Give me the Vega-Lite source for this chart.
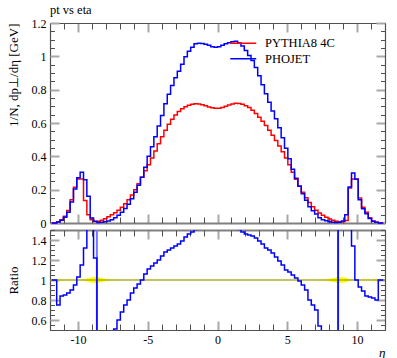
{
"$schema": "https://vega.github.io/schema/vega-lite/v6.json",
"padding": {"left": 6, "top": 3, "right": 5, "bottom": 3},
"background": "white",
"spacing": 0,
"config": {"view": {"stroke": null}, "font": "Liberation Serif",
 "axis": {"grid": false, "minExtent": 0, "labelFont": "Liberation Serif", "labelFontSize": 12, "labelColor": "#000", "labelOverlap": false, "labelFlush": false, "titleFont": "Liberation Serif", "titleFontSize": 13, "titleFontWeight": "normal", "titleColor": "#000", "domainColor": "#505050", "domainWidth": 1.2},
 "axisY": {"minExtent": 0}, "axisX": {"minExtent": 0}},
"datasets": {
"h": [
{"x":-11.88,"PYTHIA8 4C":0,"PHOJET":0,"r":1,"lo":1,"hi":1},
{"x":-11.64,"PYTHIA8 4C":0,"PHOJET":0,"r":1,"lo":1,"hi":1},
{"x":-11.40,"PYTHIA8 4C":0.008,"PHOJET":0.006,"r":0.75,"lo":0.99,"hi":1.01},
{"x":-11.16,"PYTHIA8 4C":0.020,"PHOJET":0.017,"r":0.84,"lo":0.992,"hi":1.008},
{"x":-10.92,"PYTHIA8 4C":0.040,"PHOJET":0.034,"r":0.85,"lo":0.994,"hi":1.006},
{"x":-10.68,"PYTHIA8 4C":0.075,"PHOJET":0.065,"r":0.87,"lo":0.995,"hi":1.005},
{"x":-10.44,"PYTHIA8 4C":0.140,"PHOJET":0.126,"r":0.90,"lo":0.996,"hi":1.004},
{"x":-10.20,"PYTHIA8 4C":0.215,"PHOJET":0.204,"r":0.95,"lo":0.996,"hi":1.004},
{"x":-9.96,"PYTHIA8 4C":0.264,"PHOJET":0.272,"r":1.03,"lo":0.996,"hi":1.004},
{"x":-9.72,"PYTHIA8 4C":0.264,"PHOJET":0.305,"r":1.15,"lo":0.994,"hi":1.006},
{"x":-9.48,"PYTHIA8 4C":0.135,"PHOJET":0.260,"r":1.32,"lo":0.99,"hi":1.01},
{"x":-9.24,"PYTHIA8 4C":0.050,"PHOJET":0.160,"r":1.80,"lo":0.98,"hi":1.02},
{"x":-9.00,"PYTHIA8 4C":0.020,"PHOJET":0.030,"r":1.90,"lo":0.972,"hi":1.028},
{"x":-8.76,"PYTHIA8 4C":0.009,"PHOJET":0.010,"r":1.22,"lo":0.97,"hi":1.03},
{"x":-8.52,"PYTHIA8 4C":0.010,"PHOJET":0.003,"r":0.20,"lo":0.972,"hi":1.028},
{"x":-8.28,"PYTHIA8 4C":0.017,"PHOJET":0.004,"r":0.20,"lo":0.98,"hi":1.02},
{"x":-8.04,"PYTHIA8 4C":0.026,"PHOJET":0.007,"r":0.30,"lo":0.988,"hi":1.012},
{"x":-7.80,"PYTHIA8 4C":0.037,"PHOJET":0.012,"r":0.33,"lo":0.992,"hi":1.008},
{"x":-7.56,"PYTHIA8 4C":0.049,"PHOJET":0.020,"r":0.40,"lo":0.995,"hi":1.005},
{"x":-7.32,"PYTHIA8 4C":0.062,"PHOJET":0.032,"r":0.51,"lo":0.996,"hi":1.004},
{"x":-7.08,"PYTHIA8 4C":0.077,"PHOJET":0.046,"r":0.60,"lo":0.997,"hi":1.003},
{"x":-6.84,"PYTHIA8 4C":0.095,"PHOJET":0.065,"r":0.68,"lo":0.998,"hi":1.002},
{"x":-6.60,"PYTHIA8 4C":0.116,"PHOJET":0.087,"r":0.75,"lo":0.998,"hi":1.002},
{"x":-6.36,"PYTHIA8 4C":0.140,"PHOJET":0.112,"r":0.80,"lo":0.998,"hi":1.002},
{"x":-6.12,"PYTHIA8 4C":0.168,"PHOJET":0.146,"r":0.87,"lo":0.998,"hi":1.002},
{"x":-5.88,"PYTHIA8 4C":0.200,"PHOJET":0.184,"r":0.92,"lo":0.998,"hi":1.002},
{"x":-5.64,"PYTHIA8 4C":0.236,"PHOJET":0.227,"r":0.96,"lo":0.998,"hi":1.002},
{"x":-5.40,"PYTHIA8 4C":0.275,"PHOJET":0.275,"r":1.00,"lo":0.998,"hi":1.002},
{"x":-5.16,"PYTHIA8 4C":0.313,"PHOJET":0.335,"r":1.06,"lo":0.998,"hi":1.002},
{"x":-4.92,"PYTHIA8 4C":0.350,"PHOJET":0.400,"r":1.11,"lo":0.998,"hi":1.002},
{"x":-4.68,"PYTHIA8 4C":0.390,"PHOJET":0.458,"r":1.14,"lo":0.998,"hi":1.002},
{"x":-4.44,"PYTHIA8 4C":0.432,"PHOJET":0.518,"r":1.17,"lo":0.998,"hi":1.002},
{"x":-4.20,"PYTHIA8 4C":0.476,"PHOJET":0.582,"r":1.20,"lo":0.998,"hi":1.002},
{"x":-3.96,"PYTHIA8 4C":0.518,"PHOJET":0.645,"r":1.24,"lo":0.998,"hi":1.002},
{"x":-3.72,"PYTHIA8 4C":0.557,"PHOJET":0.715,"r":1.28,"lo":0.998,"hi":1.002},
{"x":-3.48,"PYTHIA8 4C":0.592,"PHOJET":0.772,"r":1.30,"lo":0.998,"hi":1.002},
{"x":-3.24,"PYTHIA8 4C":0.622,"PHOJET":0.825,"r":1.32,"lo":0.998,"hi":1.002},
{"x":-3.00,"PYTHIA8 4C":0.648,"PHOJET":0.871,"r":1.34,"lo":0.998,"hi":1.002},
{"x":-2.76,"PYTHIA8 4C":0.669,"PHOJET":0.911,"r":1.36,"lo":0.998,"hi":1.002},
{"x":-2.52,"PYTHIA8 4C":0.685,"PHOJET":0.952,"r":1.39,"lo":0.998,"hi":1.002},
{"x":-2.28,"PYTHIA8 4C":0.697,"PHOJET":0.997,"r":1.43,"lo":0.998,"hi":1.002},
{"x":-2.04,"PYTHIA8 4C":0.706,"PHOJET":1.031,"r":1.46,"lo":0.998,"hi":1.002},
{"x":-1.80,"PYTHIA8 4C":0.712,"PHOJET":1.054,"r":1.48,"lo":0.998,"hi":1.002},
{"x":-1.56,"PYTHIA8 4C":0.716,"PHOJET":1.075,"r":1.505,"lo":0.998,"hi":1.002},
{"x":-1.32,"PYTHIA8 4C":0.714,"PHOJET":1.078,"r":1.51,"lo":0.998,"hi":1.002},
{"x":-1.08,"PYTHIA8 4C":0.710,"PHOJET":1.077,"r":1.52,"lo":0.998,"hi":1.002},
{"x":-0.84,"PYTHIA8 4C":0.703,"PHOJET":1.072,"r":1.52,"lo":0.998,"hi":1.002},
{"x":-0.60,"PYTHIA8 4C":0.696,"PHOJET":1.066,"r":1.53,"lo":0.998,"hi":1.002},
{"x":-0.36,"PYTHIA8 4C":0.691,"PHOJET":1.058,"r":1.53,"lo":0.998,"hi":1.002},
{"x":-0.12,"PYTHIA8 4C":0.689,"PHOJET":1.055,"r":1.53,"lo":0.998,"hi":1.002},
{"x":0.12,"PYTHIA8 4C":0.689,"PHOJET":1.058,"r":1.53,"lo":0.998,"hi":1.002},
{"x":0.36,"PYTHIA8 4C":0.693,"PHOJET":1.066,"r":1.53,"lo":0.998,"hi":1.002},
{"x":0.60,"PYTHIA8 4C":0.700,"PHOJET":1.075,"r":1.53,"lo":0.998,"hi":1.002},
{"x":0.84,"PYTHIA8 4C":0.708,"PHOJET":1.082,"r":1.53,"lo":0.998,"hi":1.002},
{"x":1.08,"PYTHIA8 4C":0.714,"PHOJET":1.088,"r":1.53,"lo":0.998,"hi":1.002},
{"x":1.32,"PYTHIA8 4C":0.718,"PHOJET":1.090,"r":1.52,"lo":0.998,"hi":1.002},
{"x":1.56,"PYTHIA8 4C":0.717,"PHOJET":1.080,"r":1.505,"lo":0.998,"hi":1.002},
{"x":1.80,"PYTHIA8 4C":0.712,"PHOJET":1.062,"r":1.48,"lo":0.998,"hi":1.002},
{"x":2.04,"PYTHIA8 4C":0.704,"PHOJET":1.035,"r":1.46,"lo":0.998,"hi":1.002},
{"x":2.28,"PYTHIA8 4C":0.693,"PHOJET":1.005,"r":1.45,"lo":0.998,"hi":1.002},
{"x":2.52,"PYTHIA8 4C":0.677,"PHOJET":0.975,"r":1.44,"lo":0.998,"hi":1.002},
{"x":2.76,"PYTHIA8 4C":0.657,"PHOJET":0.933,"r":1.42,"lo":0.998,"hi":1.002},
{"x":3.00,"PYTHIA8 4C":0.635,"PHOJET":0.883,"r":1.39,"lo":0.998,"hi":1.002},
{"x":3.24,"PYTHIA8 4C":0.610,"PHOJET":0.830,"r":1.36,"lo":0.998,"hi":1.002},
{"x":3.48,"PYTHIA8 4C":0.585,"PHOJET":0.775,"r":1.32,"lo":0.998,"hi":1.002},
{"x":3.72,"PYTHIA8 4C":0.557,"PHOJET":0.724,"r":1.30,"lo":0.998,"hi":1.002},
{"x":3.96,"PYTHIA8 4C":0.527,"PHOJET":0.672,"r":1.27,"lo":0.998,"hi":1.002},
{"x":4.20,"PYTHIA8 4C":0.495,"PHOJET":0.625,"r":1.23,"lo":0.998,"hi":1.002},
{"x":4.44,"PYTHIA8 4C":0.462,"PHOJET":0.572,"r":1.19,"lo":0.998,"hi":1.002},
{"x":4.68,"PYTHIA8 4C":0.428,"PHOJET":0.512,"r":1.15,"lo":0.998,"hi":1.002},
{"x":4.92,"PYTHIA8 4C":0.390,"PHOJET":0.448,"r":1.10,"lo":0.998,"hi":1.002},
{"x":5.16,"PYTHIA8 4C":0.350,"PHOJET":0.385,"r":1.08,"lo":0.998,"hi":1.002},
{"x":5.40,"PYTHIA8 4C":0.305,"PHOJET":0.322,"r":1.05,"lo":0.998,"hi":1.002},
{"x":5.64,"PYTHIA8 4C":0.262,"PHOJET":0.268,"r":1.02,"lo":0.998,"hi":1.002},
{"x":5.88,"PYTHIA8 4C":0.222,"PHOJET":0.220,"r":0.99,"lo":0.998,"hi":1.002},
{"x":6.12,"PYTHIA8 4C":0.185,"PHOJET":0.176,"r":0.95,"lo":0.998,"hi":1.002},
{"x":6.36,"PYTHIA8 4C":0.152,"PHOJET":0.137,"r":0.90,"lo":0.998,"hi":1.002},
{"x":6.60,"PYTHIA8 4C":0.123,"PHOJET":0.098,"r":0.80,"lo":0.998,"hi":1.002},
{"x":6.84,"PYTHIA8 4C":0.098,"PHOJET":0.074,"r":0.75,"lo":0.998,"hi":1.002},
{"x":7.08,"PYTHIA8 4C":0.077,"PHOJET":0.054,"r":0.70,"lo":0.997,"hi":1.003},
{"x":7.32,"PYTHIA8 4C":0.060,"PHOJET":0.032,"r":0.54,"lo":0.996,"hi":1.004},
{"x":7.56,"PYTHIA8 4C":0.046,"PHOJET":0.020,"r":0.44,"lo":0.995,"hi":1.005},
{"x":7.80,"PYTHIA8 4C":0.034,"PHOJET":0.013,"r":0.38,"lo":0.992,"hi":1.008},
{"x":8.04,"PYTHIA8 4C":0.024,"PHOJET":0.008,"r":0.33,"lo":0.988,"hi":1.012},
{"x":8.28,"PYTHIA8 4C":0.016,"PHOJET":0.005,"r":0.30,"lo":0.98,"hi":1.02},
{"x":8.52,"PYTHIA8 4C":0.010,"PHOJET":0.003,"r":0.30,"lo":0.972,"hi":1.028},
{"x":8.76,"PYTHIA8 4C":0.007,"PHOJET":0.004,"r":3.0,"lo":0.97,"hi":1.03},
{"x":9.00,"PYTHIA8 4C":0.008,"PHOJET":0.012,"r":3.0,"lo":0.972,"hi":1.028},
{"x":9.24,"PYTHIA8 4C":0.015,"PHOJET":0.050,"r":3.0,"lo":0.98,"hi":1.02},
{"x":9.48,"PYTHIA8 4C":0.210,"PHOJET":0.216,"r":1.80,"lo":0.99,"hi":1.01},
{"x":9.72,"PYTHIA8 4C":0.264,"PHOJET":0.300,"r":1.34,"lo":0.994,"hi":1.006},
{"x":9.96,"PYTHIA8 4C":0.264,"PHOJET":0.262,"r":1.00,"lo":0.996,"hi":1.004},
{"x":10.20,"PYTHIA8 4C":0.150,"PHOJET":0.140,"r":0.93,"lo":0.996,"hi":1.004},
{"x":10.44,"PYTHIA8 4C":0.095,"PHOJET":0.085,"r":0.89,"lo":0.996,"hi":1.004},
{"x":10.68,"PYTHIA8 4C":0.065,"PHOJET":0.055,"r":0.84,"lo":0.995,"hi":1.005},
{"x":10.92,"PYTHIA8 4C":0.032,"PHOJET":0.027,"r":0.83,"lo":0.994,"hi":1.006},
{"x":11.16,"PYTHIA8 4C":0.012,"PHOJET":0.010,"r":0.82,"lo":0.992,"hi":1.008},
{"x":11.40,"PYTHIA8 4C":0.005,"PHOJET":0.004,"r":0.80,"lo":0.99,"hi":1.01},
{"x":11.64,"PYTHIA8 4C":0,"PHOJET":0,"r":1,"lo":1,"hi":1},
{"x":11.88,"PYTHIA8 4C":0,"PHOJET":0,"r":1,"lo":1,"hi":1}
],
"sp": [{"x": -8.64}, {"x": 8.64}],
"one": [{"v": 1}]
},
"vconcat": [
{
"width": 335, "height": 200,
"title": {"text": "pt vs eta", "anchor": "start", "frame": "group", "font": "Liberation Serif", "fontSize": 12.5, "fontWeight": "normal", "color": "#000", "offset": 1},
"data": {"name": "h"},
"transform": [{"fold": ["PYTHIA8 4C", "PHOJET"], "as": ["s", "v"]}],
"layer": [
{"mark": {"type": "line", "interpolate": "step", "strokeWidth": 1.5},
 "encoding": {
  "x": {"field": "x", "type": "quantitative", "scale": {"domain": [-12, 12], "nice": false, "zero": false},
   "axis": {"orient": "bottom", "values": [-10,-5,0,5,10], "labels": false, "title": null, "domainColor": "#808080", "domainWidth": 2, "tickColor": "#a8a8a8", "tickWidth": 2, "tickSize": -9}},
  "y": {"field": "v", "type": "quantitative", "scale": {"domain": [0, 1.2], "nice": false, "zero": false},
   "axis": {"orient": "left", "values": [0,0.2,0.4,0.6,0.8,1,1.2], "labelExpr": "toString(datum.value)", "ticks": false, "labelPadding": 4,
    "title": "1/N, dp⊥/dη [GeV]", "titleAnchor": "end", "titlePadding": 11}},
  "color": {"field": "s", "type": "nominal", "sort": ["PYTHIA8 4C", "PHOJET"],
   "scale": {"domain": ["PYTHIA8 4C", "PHOJET"], "range": ["#ff0000", "#0000ff"]},
   "legend": {"orient": "none", "legendX": 187, "legendY": 14, "title": null, "padding": 0, "symbolType": "M-3,0H3", "symbolSize": 75, "symbolStrokeWidth": 1.5, "labelFont": "Liberation Serif", "labelFontSize": 12.5, "labelColor": "#000", "labelOffset": 15.5, "rowPadding": 2.5}}
 }},
{"mark": {"type": "line", "opacity": 0},
 "encoding": {
  "x": {"field": "x", "type": "quantitative",
   "axis": {"orient": "bottom", "values": [-12,-11,-9,-8,-7,-6,-4,-3,-2,-1,1,2,3,4,6,7,8,9,11,12], "labels": false, "title": null, "domain": false, "tickColor": "#505050", "tickWidth": 1, "tickSize": -6}},
  "y": {"field": "v", "type": "quantitative",
   "axis": {"orient": "left", "values": [0,0.2,0.4,0.6,0.8,1,1.2], "labels": false, "title": null, "domain": false, "tickColor": "#a8a8a8", "tickWidth": 2, "tickSize": -9}}
 }},
{"mark": {"type": "line", "opacity": 0},
 "encoding": {
  "x": {"field": "x", "type": "quantitative",
   "axis": {"orient": "top", "values": [-10,-5,0,5,10], "labels": false, "title": null, "tickColor": "#a8a8a8", "tickWidth": 2, "tickSize": -9}},
  "y": {"field": "v", "type": "quantitative",
   "axis": {"orient": "left", "values": [0.05,0.1,0.15,0.25,0.3,0.35,0.45,0.5,0.55,0.65,0.7,0.75,0.85,0.9,0.95,1.05,1.1,1.15], "labels": false, "title": null, "domain": false, "tickColor": "#505050", "tickWidth": 1, "tickSize": -4.5}}
 }},
{"mark": {"type": "line", "opacity": 0},
 "encoding": {
  "x": {"field": "x", "type": "quantitative",
   "axis": {"orient": "top", "values": [-12,-11,-9,-8,-7,-6,-4,-3,-2,-1,1,2,3,4,6,7,8,9,11,12], "labels": false, "title": null, "domain": false, "tickColor": "#505050", "tickWidth": 1, "tickSize": -6}},
  "y": {"field": "v", "type": "quantitative",
   "axis": {"orient": "right", "values": [0,0.2,0.4,0.6,0.8,1,1.2], "labels": false, "title": null, "tickColor": "#a8a8a8", "tickWidth": 2, "tickSize": -9}}
 }},
{"mark": {"type": "line", "opacity": 0},
 "encoding": {
  "x": {"field": "x", "type": "quantitative", "axis": null},
  "y": {"field": "v", "type": "quantitative",
   "axis": {"orient": "right", "values": [0.05,0.1,0.15,0.25,0.3,0.35,0.45,0.5,0.55,0.65,0.7,0.75,0.85,0.9,0.95,1.05,1.1,1.15], "labels": false, "title": null, "domain": false, "tickColor": "#505050", "tickWidth": 1, "tickSize": -4.5}}
 }}
],
"resolve": {"axis": {"x": "independent", "y": "independent"}}
},
{
"width": 335, "height": 100,
"data": {"name": "h"},
"layer": [
{"mark": {"type": "area", "interpolate": "step", "color": "#ffff00", "clip": true},
 "encoding": {
  "x": {"field": "x", "type": "quantitative", "scale": {"domain": [-12, 12], "nice": false, "zero": false},
   "axis": {"orient": "bottom", "values": [-10,-5,0,5,10], "labelExpr": "toString(datum.value)", "ticks": false, "labelPadding": 4,
    "title": "η", "titleAnchor": "end", "titleFontSize": 13, "titleFontStyle": "italic", "titlePadding": 1}},
  "y": {"field": "lo", "type": "quantitative", "scale": {"domain": [0.5, 1.5], "nice": false, "zero": false},
   "axis": {"orient": "left", "values": [0.6,0.8,1,1.2,1.4], "labelExpr": "toString(datum.value)", "ticks": false, "labelPadding": 4,
    "title": "Ratio", "titlePadding": 11}},
  "y2": {"field": "hi"}
 }},
{"data": {"name": "one"},
 "mark": {"type": "rule", "color": "#8c8c00", "strokeWidth": 1.2},
 "encoding": {"y": {"field": "v", "type": "quantitative", "axis": null}}},
{"data": {"name": "sp"},
 "mark": {"type": "rule", "color": "#7878ff", "strokeWidth": 2},
 "encoding": {"x": {"field": "x", "type": "quantitative", "axis": null}}},
{"mark": {"type": "line", "interpolate": "step", "color": "#0000ff", "strokeWidth": 1.5, "clip": true},
 "encoding": {
  "x": {"field": "x", "type": "quantitative",
   "axis": {"orient": "bottom", "values": [-10,-5,0,5,10], "labels": false, "title": null, "tickColor": "#a8a8a8", "tickWidth": 2, "tickSize": -9}},
  "y": {"field": "r", "type": "quantitative",
   "axis": {"orient": "left", "values": [0.6,0.8,1,1.2,1.4], "labels": false, "title": null, "domain": false, "tickColor": "#a8a8a8", "tickWidth": 2, "tickSize": -9}}
 }},
{"mark": {"type": "line", "opacity": 0, "clip": true},
 "encoding": {
  "x": {"field": "x", "type": "quantitative",
   "axis": {"orient": "bottom", "values": [-12,-11,-9,-8,-7,-6,-4,-3,-2,-1,1,2,3,4,6,7,8,9,11,12], "labels": false, "title": null, "domain": false, "tickColor": "#505050", "tickWidth": 1, "tickSize": -6}},
  "y": {"field": "r", "type": "quantitative",
   "axis": {"orient": "left", "values": [0.5,0.55,0.65,0.7,0.75,0.85,0.9,0.95,1.05,1.1,1.15,1.25,1.3,1.35,1.45,1.5], "labels": false, "title": null, "domain": false, "tickColor": "#505050", "tickWidth": 1, "tickSize": -4.5}}
 }},
{"mark": {"type": "line", "opacity": 0, "clip": true},
 "encoding": {
  "x": {"field": "x", "type": "quantitative",
   "axis": {"orient": "top", "values": [-10,-5,0,5,10], "labels": false, "title": null, "domainColor": "#808080", "domainWidth": 2, "tickColor": "#a8a8a8", "tickWidth": 2, "tickSize": -9}},
  "y": {"field": "r", "type": "quantitative",
   "axis": {"orient": "right", "values": [0.6,0.8,1,1.2,1.4], "labels": false, "title": null, "tickColor": "#a8a8a8", "tickWidth": 2, "tickSize": -9}}
 }},
{"mark": {"type": "line", "opacity": 0, "clip": true},
 "encoding": {
  "x": {"field": "x", "type": "quantitative",
   "axis": {"orient": "top", "values": [-12,-11,-9,-8,-7,-6,-4,-3,-2,-1,1,2,3,4,6,7,8,9,11,12], "labels": false, "title": null, "domain": false, "tickColor": "#505050", "tickWidth": 1, "tickSize": -6}},
  "y": {"field": "r", "type": "quantitative",
   "axis": {"orient": "right", "values": [0.5,0.55,0.65,0.7,0.75,0.85,0.9,0.95,1.05,1.1,1.15,1.25,1.3,1.35,1.45,1.5], "labels": false, "title": null, "domain": false, "tickColor": "#505050", "tickWidth": 1, "tickSize": -4.5}}
 }}
],
"resolve": {"axis": {"x": "independent", "y": "independent"}}
}
]
}
